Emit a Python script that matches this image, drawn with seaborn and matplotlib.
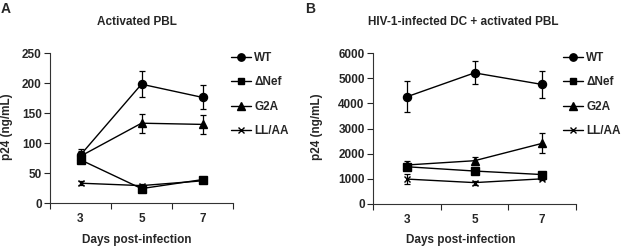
import numpy as np
import pandas as pd
import matplotlib
matplotlib.use("Agg")
import matplotlib.pyplot as plt
from matplotlib.lines import Line2D
import seaborn as sns

days = [3, 5, 7]
strains = ["WT", "ΔNef", "G2A", "LL/AA"]

# Panel A: Activated PBL
a_wt = [80, 198, 176]
a_dnef = [72, 24, 39]
a_g2a = [78, 133, 131]
a_llaa = [33, 29, 37]
a_wt_err = [10, 22, 20]
a_dnef_err = [6, 3, 3]
a_g2a_err = [8, 16, 16]
a_llaa_err = [3, 3, 3]

# Panel B: HIV-1-infected DC + activated PBL
b_wt = [4260, 5210, 4750]
b_dnef = [1480, 1310, 1170]
b_g2a = [1550, 1720, 2410]
b_llaa = [990, 850, 1000]
b_wt_err = [610, 460, 550]
b_dnef_err = [60, 60, 60]
b_g2a_err = [160, 130, 400]
b_llaa_err = [200, 80, 60]

sns.set_theme(style="ticks")
plt.rcParams['font.family'] = ['Liberation Sans', 'DejaVu Sans']
plt.rcParams['font.weight'] = 'bold'

markers = {"WT": "o", "ΔNef": "s", "G2A": "^", "LL/AA": "x"}
msizes = {"WT": 5.8, "ΔNef": 5.3, "G2A": 5.8, "LL/AA": 5.0}

fig = plt.figure(figsize=(6.22, 2.52), dpi=100)
axA = fig.add_axes([50 / 622, 1 - 203 / 252, 183 / 622, 150 / 252])
axB = fig.add_axes([373 / 622, 1 - 204 / 252, 203 / 622, 151 / 252])

panels = [
    (axA, [a_wt, a_dnef, a_g2a, a_llaa], [a_wt_err, a_dnef_err, a_g2a_err, a_llaa_err],
     250, 50, [231 / 622, 1 - 52 / 252], "Activated PBL", 137),
    (axB, [b_wt, b_dnef, b_g2a, b_llaa], [b_wt_err, b_dnef_err, b_g2a_err, b_llaa_err],
     6000, 1000, [563 / 622, 1 - 52 / 252], "HIV-1-infected DC + activated PBL", 463),
]

for ax, vals, errs, ymax, ystep, legpos, title, tx in panels:
    xs = np.arange(len(days))
    for s, v, e in zip(strains, vals, errs):
        ax.errorbar(xs, v, yerr=e, fmt="none", ecolor="black",
                    elinewidth=0.9, capsize=2.5, capthick=0.9, zorder=1)
        df = pd.DataFrame({"x": xs, "p24": v})
        sns.lineplot(data=df, x="x", y="p24", ax=ax, color="black", lw=1.0,
                     marker=markers[s], markersize=msizes[s],
                     markeredgecolor="black", markeredgewidth=1.0, zorder=3)
    ax.set_xlim(-0.5, 2.5)
    ax.set_ylim(0, ymax)
    ax.set_yticks(np.arange(0, ymax + 1, ystep))
    ax.set_xticks([-0.5, 0.5, 1.5, 2.5])
    ax.set_xticklabels([])
    ax.set_xticks(xs, minor=True)
    ax.set_xticklabels([str(d) for d in days], minor=True)
    ax.tick_params(axis="x", which="minor", length=0, labelsize=8.5, pad=7)
    ax.tick_params(axis="x", which="major", length=4, width=0.8, direction="out")
    ax.tick_params(axis="y", length=4, width=0.8, labelsize=8.5, pad=2)
    for lab in ax.get_yticklabels() + ax.get_xticklabels(minor=True):
        lab.set_fontweight("bold")
    sns.despine(ax=ax)
    for sp in ["left", "bottom"]:
        ax.spines[sp].set_linewidth(0.8)
        ax.spines[sp].set_color("#333333")
    ax.set_xlabel("")
    ax.set_ylabel("")
    handles = [Line2D([0], [0], color="black", lw=1.0, marker=markers[s],
                      markersize=msizes[s] - 0.5, markeredgecolor="black")
               for s in strains]
    fig.legend(handles, strains, loc="upper left", bbox_to_anchor=legpos,
               frameon=False, handlelength=1.7, handletextpad=0.25,
               labelspacing=1.05, borderaxespad=0, borderpad=0,
               prop={"weight": "bold", "size": 8.5})
    fig.text(tx / 622, 1 - 22 / 252, title, ha="center", va="center",
             fontsize=8.5, fontweight="bold")

fig.text(7 / 622, 1 - 127 / 252, "p24 (ng/mL)", rotation=90, ha="center", va="center",
         fontsize=8.5, fontweight="bold")
fig.text(317 / 622, 1 - 127 / 252, "p24 (ng/mL)", rotation=90, ha="center", va="center",
         fontsize=8.5, fontweight="bold")
fig.text(137 / 622, 1 - 240 / 252, "Days post-infection", ha="center", va="center",
         fontsize=8.5, fontweight="bold")
fig.text(461 / 622, 1 - 240 / 252, "Days post-infection", ha="center", va="center",
         fontsize=8.5, fontweight="bold")
fig.text(0.5 / 622, 1 - 9 / 252, "A", ha="left", va="center", fontsize=10, fontweight="bold")
fig.text(305 / 622, 1 - 9 / 252, "B", ha="left", va="center", fontsize=10, fontweight="bold")

fig.savefig("out.png", dpi=100)
